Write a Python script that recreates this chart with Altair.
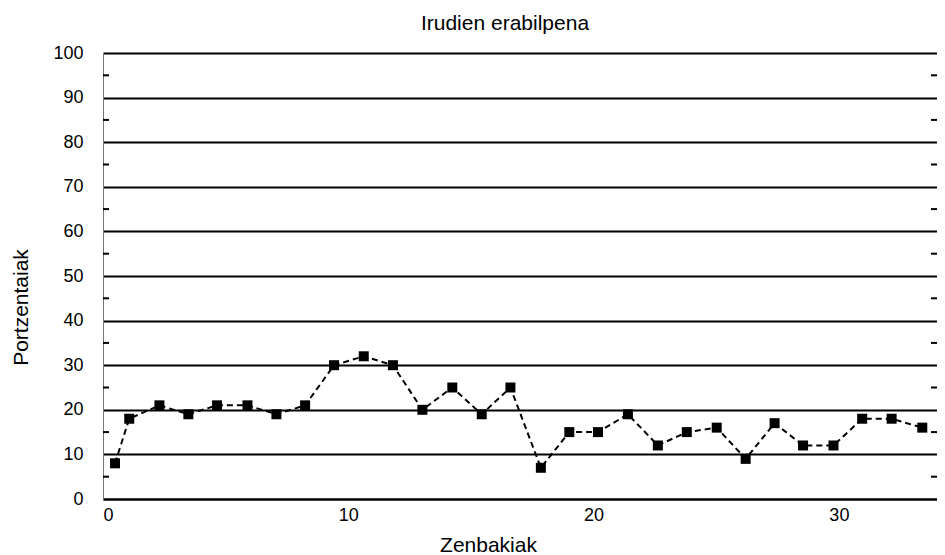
import altair as alt
import pandas as pd

x_vals = [0.49, 1.07, 2.30, 3.48, 4.65, 5.89, 7.07, 8.24, 9.42, 10.63,
          11.82, 13.02, 14.24, 15.44, 16.61, 17.85, 19.01, 20.18, 21.40, 22.62,
          23.80, 25.02, 26.20, 27.38, 28.54, 29.78, 30.95, 32.15, 33.40]
y_vals = [8, 18, 21, 19, 21, 21, 19, 21, 30, 32,
          30, 20, 25, 19, 25, 7, 15, 15, 19, 12,
          15, 16, 9, 17, 12, 12, 18, 18, 16]
x_ticks = [0, 10, 20, 30]
y_ticks = list(range(0, 101, 10))
minor_ticks = list(range(5, 100, 10))

df = pd.DataFrame({"x": x_vals, "y": y_vals})
mt = pd.DataFrame({"m": minor_ticks})

W, H = 834, 446
FONT = "Liberation Sans"

xs = alt.Scale(domain=[0, 34], nice=False)
ys = alt.Scale(domain=[0, 100], nice=False)

xaxis = alt.Axis(values=x_ticks, ticks=False, grid=False, domainColor="black",
                 domainWidth=2, labelFontSize=18, labelFont=FONT, labelColor="black",
                 labelPadding=7, title="Zenbakiak", titleFontSize=21, titleFont=FONT,
                 titleFontWeight="normal", titleColor="black",
                 titleX=385, titleY=56, titleAlign="center", titleBaseline="bottom")
yaxis = alt.Axis(values=y_ticks, ticks=False, grid=True, gridColor="black", gridWidth=2,
                 gridOpacity=1, domainColor="#777", domainWidth=1, labelFontSize=18,
                 labelFont=FONT, labelColor="black", labelPadding=20,
                 title="Portzentaiak", titleFontSize=21, titleFont=FONT,
                 titleFontWeight="normal", titleColor="black",
                 titleX=-82, titleY=254, titleAlign="center", titleBaseline="middle")

base = alt.Chart(df)
line = base.mark_line(color="black", strokeWidth=2, strokeDash=[6, 4]).encode(
    x=alt.X("x:Q", scale=xs, axis=xaxis),
    y=alt.Y("y:Q", scale=ys, axis=yaxis),
)
pts = base.mark_point(shape="square", filled=True, color="black", size=100, opacity=1).encode(
    x=alt.X("x:Q", scale=xs),
    y=alt.Y("y:Q", scale=ys),
)
lticks = alt.Chart(mt).mark_rule(color="black", strokeWidth=2).encode(
    y=alt.Y("m:Q", scale=ys),
    x=alt.value(0), x2=alt.value(6),
)
rticks = alt.Chart(mt).mark_rule(color="black", strokeWidth=2).encode(
    y=alt.Y("m:Q", scale=ys),
    x=alt.value(W - 6), x2=alt.value(W),
)

chart = alt.layer(lticks, rticks, line, pts).properties(
    width=W, height=H,
    padding={"left": 95, "top": 45, "right": 0, "bottom": 56},
    autosize=alt.AutoSizeParams(type="none"),
    title=alt.TitleParams("Irudien erabilpena", fontSize=21, font=FONT,
                          fontWeight="normal", color="black", dx=-15, offset=10),
).configure_view(stroke=None).configure(background="white")

chart.save("out.html", embed_options={"renderer": "svg", "actions": False})
